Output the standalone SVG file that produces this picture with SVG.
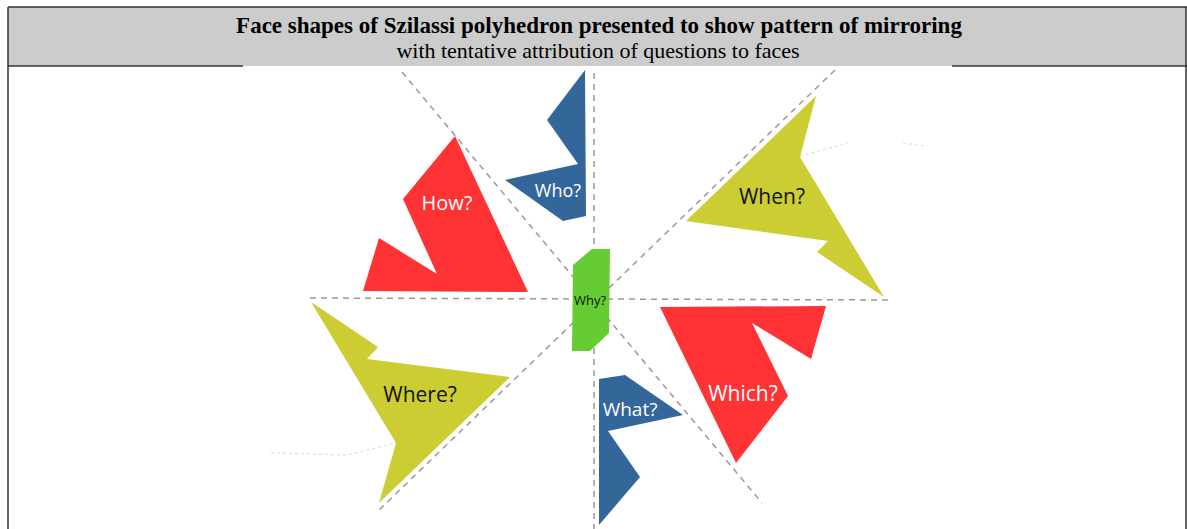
<svg xmlns="http://www.w3.org/2000/svg" width="1187" height="529" viewBox="0 0 1187 529">
<style>
.frame{stroke:#333;stroke-width:1.5;fill:none}
.dash{stroke:#999;stroke-width:1.5;stroke-dasharray:6 5;fill:none}
.faint{stroke:#c4f0bc;stroke-width:1.2;stroke-dasharray:3 3;fill:none}
.red{fill:#FF3333}
.blue{fill:#336699}
.olive{fill:#CCCC33}
.green{fill:#66CC33}
.lbl{font-family:"Open Sans","Liberation Sans",sans-serif;text-anchor:middle}
.w{fill:#ffffff}
.k{fill:#111111}
</style>
<rect x="0" y="0" width="1187" height="529" fill="#ffffff"/>
<g id="header">
<rect x="8" y="7" width="1178" height="59" fill="#cccccc"/>
<line class="frame" x1="8" y1="7" x2="1187" y2="7"/>
<line class="frame" x1="8" y1="7" x2="8" y2="529"/>
<line class="frame" x1="1186" y1="7" x2="1186" y2="529"/>
<line class="frame" x1="8" y1="66" x2="243" y2="66"/>
<line class="frame" x1="952" y1="66" x2="1187" y2="66"/>
<rect x="243" y="66" width="709" height="463" fill="#ffffff"/>
<text x="599" y="33" text-anchor="middle" font-family="Liberation Serif, serif" font-weight="bold" font-size="23">Face shapes of Szilassi polyhedron presented to show pattern of mirroring</text>
<text x="598" y="58" text-anchor="middle" font-family="Liberation Serif, serif" font-size="22">with tentative attribution of questions to faces</text>
</g>
<g id="connectors">
<line class="dash" x1="310" y1="298" x2="893" y2="300"/>
<line class="dash" x1="594" y1="73" x2="594" y2="529"/>
<line class="dash" x1="402" y1="72" x2="762" y2="503"/>
<line class="dash" x1="835" y1="70" x2="377" y2="512"/>
<polyline class="faint" points="800,156 848,143"/>
<polyline class="faint" points="903,143 925,146"/>
<polyline class="faint" points="271,453 347,455 396,443"/>
</g>
<g id="how">
<polygon class="red" points="455,136 528,292 363,291 379,238 437,274 403,199"/>
<text class="lbl w" x="447" y="210" font-size="20">How?</text>
</g>
<g id="who">
<polygon class="blue" points="585,70 586,216 563,221 505,180 578,164 547,120"/>
<text class="lbl w" x="558" y="197" font-size="18">Who?</text>
</g>
<g id="when">
<polygon class="olive" points="816,96 800,157 884,297 817,252 828,241 686,221"/>
<text class="lbl k" x="772" y="204" font-size="21">When?</text>
</g>
<g id="where">
<polygon class="olive" points="311,302 378,347 367,359 510,377 379,503 396,443"/>
<text class="lbl k" x="420" y="402" font-size="21">Where?</text>
</g>
<g id="which">
<polygon class="red" points="660,307 826,306 811,359 752,323 788,396 736,463"/>
<text class="lbl w" x="743" y="401" font-size="21">Which?</text>
</g>
<g id="what">
<polygon class="blue" points="599,379 625,375 683,415 608,431 640,477 599,525"/>
<text class="lbl w" x="630" y="416" font-size="19">What?</text>
</g>
<g id="why">
<polygon class="green" points="573,265 592,249 610,249 609,333 590,351 572,351"/>
<text class="lbl k" x="590" y="305" font-size="13">Why?</text>
</g>
</svg>
